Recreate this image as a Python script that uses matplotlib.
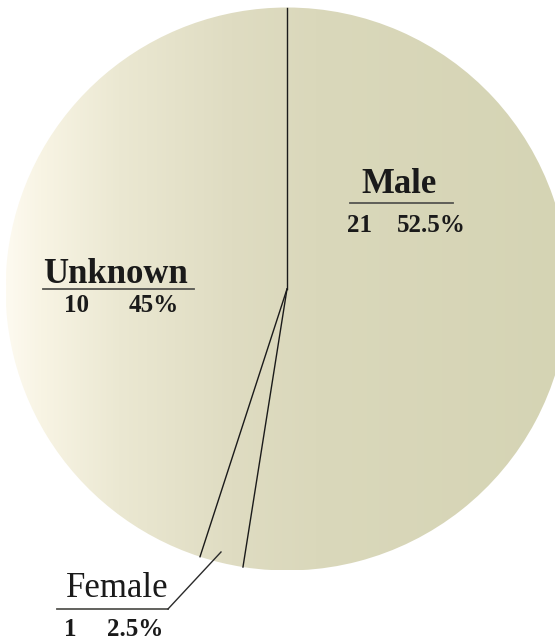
import numpy as np
import matplotlib
matplotlib.use('Agg')
import matplotlib.pyplot as plt
from matplotlib.colors import LinearSegmentedColormap

# chart data
labels = ['Male', 'Female', 'Unknown']
counts = [21, 1, 10]
shares = [52.5, 2.5, 45.0]

W, H = 555, 643


def Y(py):
    # pixel row (top-down) -> data y (bottom-up)
    return H - py


fig = plt.figure(figsize=(W / 100, H / 100), dpi=100)
ax = fig.add_axes([0, 0, 1, 1])

cx, cy, r = 287, Y(289), 281.5

wedges, _ = ax.pie(shares, startangle=90, counterclock=False,
                   center=(cx, cy), radius=r,
                   wedgeprops=dict(linewidth=0, facecolor='none'))

# horizontal cream -> khaki gradient clipped to each slice
cmap = LinearSegmentedColormap.from_list('khaki', [
    (0.00, '#fdfaf0'),
    (0.06, '#f8f4e4'),
    (0.20, '#ebe8d2'),
    (0.40, '#dfdcc2'),
    (0.55, '#dad8bb'),
    (1.00, '#d5d4b4'),
])
grad = np.linspace(0, 1, 512).reshape(1, -1)
for w in wedges:
    im = ax.imshow(grad, cmap=cmap, extent=(cx - r, cx + r, cy - r, cy + r),
                   aspect='auto', interpolation='bicubic', zorder=1)
    im.set_clip_path(w)

# slice borders
for ang in sorted({w.theta1 % 360 for w in wedges}):
    t = np.deg2rad(ang)
    ax.plot([cx, cx + r * np.cos(t)], [cy, cy + r * np.sin(t)],
            color='#1a1a1a', lw=1.0, zorder=3)

font = 'Liberation Serif'
ink = '#1a1a1a'
rule = '#555550'

# name position, underline (x0, x1, y), count x, percent x, value y, name weight
layout = {
    'Male': ((399, 193), (350, 453, 203), 360, 431, 225, 'bold'),
    'Unknown': ((115, 283), (43, 194, 289), 77, 154, 305, 'bold'),
    'Female': ((117, 597), (57, 168, 609), 70, 135, 630, 'normal'),
}
for name, n, pct in zip(labels, counts, shares):
    (nx, ny), (u0, u1, uy), qx, px, vy, wt = layout[name]
    ax.text(nx, Y(ny), name, ha='center', va='baseline', fontsize=25,
            family=font, weight=wt, color=ink, zorder=4)
    ax.plot([u0, u1], [Y(uy), Y(uy)], color=rule, lw=1.3, zorder=4)
    ax.text(qx, Y(vy), str(n), ha='center', va='center', fontsize=18,
            family=font, weight='bold', color=ink, zorder=4)
    ax.text(px, Y(vy), f'{pct:g}%', ha='center', va='center', fontsize=18,
            family=font, weight='bold', color=ink, zorder=4)

# leader for the small Female slice
ax.plot([168, 221], [Y(609), Y(552)], color='#2a2a2a', lw=1.0, zorder=4)

ax.set_xlim(0, W)
ax.set_ylim(0, H)
ax.set_aspect('auto')
ax.axis('off')

fig.savefig('out.png', dpi=100, facecolor='white')
